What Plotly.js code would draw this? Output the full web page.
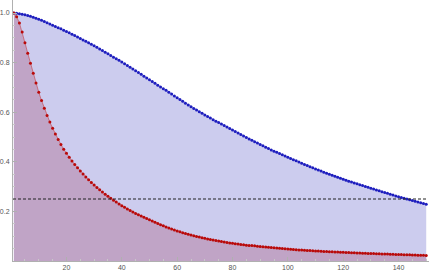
<!DOCTYPE html>
<html>
<head>
<meta charset="utf-8">
<script src="https://cdn.plot.ly/plotly-3.0.1.min.js"></script>
<style>html,body{margin:0;padding:0;background:#fff;}#chart{width:435px;height:272px;}</style>
</head>
<body>
<div id="chart"></div>
<script>
// Series values at x = 1..150
const blueValues = [
1.000,0.999,0.997,0.995,0.993,0.990,0.987,0.983,0.979,0.975,
0.971,0.966,0.961,0.956,0.951,0.946,0.941,0.936,0.930,0.925,
0.920,0.914,0.909,0.903,0.897,0.891,0.886,0.880,0.874,0.868,
0.862,0.855,0.849,0.842,0.836,0.829,0.822,0.816,0.809,0.802,
0.795,0.788,0.781,0.774,0.767,0.760,0.753,0.745,0.738,0.731,
0.724,0.717,0.709,0.702,0.695,0.688,0.680,0.673,0.665,0.658,
0.651,0.644,0.636,0.629,0.622,0.615,0.609,0.602,0.596,0.589,
0.583,0.577,0.570,0.564,0.558,0.552,0.546,0.540,0.534,0.528,
0.522,0.516,0.510,0.504,0.498,0.492,0.487,0.481,0.476,0.470,
0.465,0.459,0.454,0.448,0.443,0.438,0.433,0.428,0.423,0.418,
0.413,0.408,0.404,0.399,0.394,0.389,0.385,0.380,0.376,0.371,
0.367,0.363,0.358,0.354,0.350,0.346,0.342,0.338,0.334,0.330,
0.326,0.322,0.319,0.315,0.311,0.307,0.304,0.300,0.297,0.293,
0.290,0.286,0.283,0.279,0.276,0.273,0.269,0.266,0.262,0.259,
0.256,0.253,0.250,0.247,0.244,0.241,0.238,0.235,0.232,0.229
];
const redValues = [
1.000,0.985,0.960,0.923,0.880,0.838,0.797,0.757,0.718,0.680,
0.647,0.616,0.587,0.560,0.535,0.512,0.490,0.470,0.451,0.434,
0.418,0.403,0.389,0.376,0.363,0.351,0.339,0.328,0.317,0.306,
0.296,0.287,0.278,0.269,0.261,0.253,0.245,0.238,0.230,0.223,
0.217,0.210,0.204,0.198,0.192,0.186,0.181,0.176,0.171,0.166,
0.161,0.156,0.151,0.146,0.142,0.137,0.133,0.129,0.125,0.121,
0.118,0.114,0.111,0.108,0.105,0.102,0.099,0.097,0.094,0.092,
0.089,0.087,0.085,0.083,0.081,0.079,0.077,0.075,0.073,0.072,
0.070,0.069,0.067,0.066,0.064,0.063,0.062,0.061,0.059,0.058,
0.057,0.056,0.055,0.054,0.053,0.052,0.051,0.050,0.049,0.048,
0.0472,0.0464,0.0456,0.0448,0.0441,0.0434,0.0427,0.0420,0.0413,0.0406,
0.0400,0.0394,0.0388,0.0382,0.0376,0.0370,0.0364,0.0359,0.0354,0.0349,
0.0344,0.0339,0.0334,0.0329,0.0324,0.0319,0.0315,0.0311,0.0307,0.0303,
0.0299,0.0295,0.0291,0.0287,0.0283,0.0279,0.0275,0.0271,0.0267,0.0263,
0.0259,0.0255,0.0251,0.0247,0.0243,0.0239,0.0235,0.0231,0.0227,0.0223
];
const xValues = blueValues.map((_, i) => i + 1);
const thresholdLevel = 0.25;
const xTickValues = [20, 40, 60, 80, 100, 120, 140];
const yTickValues = [0.2, 0.4, 0.6, 0.8, 1.0];
const yTickLabels = ["0.2", "0.4", "0.6", "0.8", "1.0"];

const traces = [
  {
    x: xValues, y: blueValues, type: 'scatter', mode: 'lines+markers',
    fill: 'tozeroy', fillcolor: 'rgb(204,204,238)',
    line: {color: 'rgba(60,60,200,0.45)', width: 1},
    marker: {color: 'rgb(30,30,190)', size: 3},
    cliponaxis: false, hoverinfo: 'skip'
  },
  {
    x: xValues, y: redValues, type: 'scatter', mode: 'lines+markers',
    fill: 'tozeroy', fillcolor: 'rgb(192,164,198)',
    line: {color: 'rgba(200,40,40,0.5)', width: 1},
    marker: {color: 'rgb(185,10,10)', size: 3},
    cliponaxis: false, hoverinfo: 'skip'
  }
];

const axisFont = {family: 'Liberation Sans, Arial, sans-serif', size: 7, color: '#555'};
const layout = {
  width: 435, height: 272,
  margin: {l: 13, r: 6, t: 0, b: 11, pad: 0},
  paper_bgcolor: '#fff', plot_bgcolor: '#fff',
  showlegend: false,
  xaxis: {
    range: [0.68, 151], showgrid: false, zeroline: false,
    showline: true, linecolor: '#b0b0b0', linewidth: 1,
    ticks: 'inside', ticklen: 4, tickcolor: '#b0b0b0', tickwidth: 1,
    tickvals: xTickValues, ticktext: xTickValues.map(String),
    tickfont: axisFont,
    minor: {dtick: 5, tick0: 0, ticks: 'inside', ticklen: 2, tickcolor: '#c8c8c8', showgrid: false}
  },
  yaxis: {
    range: [0, 1.0524], showgrid: false, zeroline: false,
    showline: true, linecolor: '#b0b0b0', linewidth: 1,
    ticks: 'inside', ticklen: 4, tickcolor: '#b0b0b0', tickwidth: 1,
    tickvals: yTickValues, ticktext: yTickLabels,
    tickfont: axisFont, ticklabelstandoff: 1,
    minor: {dtick: 0.05, tick0: 0, ticks: 'inside', ticklen: 2, tickcolor: '#c8c8c8', showgrid: false}
  },
  shapes: [{
    type: 'line', xref: 'x', yref: 'y',
    x0: 0.68, x1: xValues[xValues.length - 1], y0: thresholdLevel, y1: thresholdLevel,
    line: {color: '#222', width: 1, dash: '3px,2px'}
  }]
};

Plotly.newPlot('chart', traces, layout, {staticPlot: true, displayModeBar: false});
</script>
</body>
</html>
